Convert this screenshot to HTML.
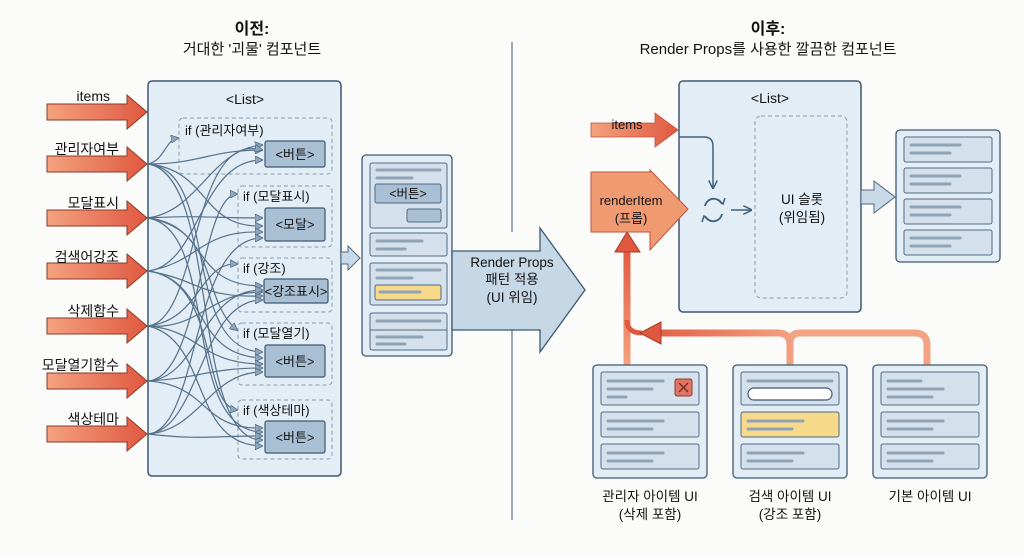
<!DOCTYPE html>
<html><head><meta charset="utf-8"><style>
html,body{margin:0;padding:0;background:#fbfbfa;}
svg{display:block;font-family:"Liberation Sans","Noto Sans CJK KR",sans-serif;}
</style></head><body>
<svg width="1024" height="559" viewBox="0 0 1024 559" xmlns="http://www.w3.org/2000/svg">
<defs>
<marker id="ah" markerWidth="8" markerHeight="8" refX="7" refY="4" orient="auto" markerUnits="userSpaceOnUse"><path d="M0,0 L8,4 L0,8 Z" fill="#8fa6bb" stroke="#4f6a84" stroke-width="0.8"/></marker>
<marker id="ah2" markerWidth="9" markerHeight="9" refX="8" refY="4.5" orient="auto" markerUnits="userSpaceOnUse"><path d="M0,0 L9,4.5 L0,9" fill="none" stroke="#3f607c" stroke-width="1.5"/></marker>
<linearGradient id="og" x1="0" x2="1"><stop offset="0" stop-color="#f3a27f"/><stop offset="1" stop-color="#e0583f"/></linearGradient>
<linearGradient id="og2" gradientUnits="userSpaceOnUse" x1="640" y1="0" x2="800" y2="0"><stop offset="0" stop-color="#e0583f"/><stop offset="1" stop-color="#f4a585"/></linearGradient>
<linearGradient id="ov" gradientUnits="userSpaceOnUse" x1="0" y1="365" x2="0" y2="245"><stop offset="0" stop-color="#f3a27f"/><stop offset="1" stop-color="#e0583f"/></linearGradient>
</defs>

<!-- titles -->
<text x="252" y="34" text-anchor="middle" font-size="16" font-weight="bold" fill="#111">이전:</text>
<text x="252" y="54" text-anchor="middle" font-size="15" fill="#111">거대한 '괴물' 컴포넌트</text>
<text x="768" y="34" text-anchor="middle" font-size="16" font-weight="bold" fill="#111">이후:</text>
<text x="768" y="54" text-anchor="middle" font-size="15" fill="#111">Render Props를 사용한 깔끔한 컴포넌트</text>

<!-- divider -->
<line x1="512" y1="42" x2="512" y2="232" stroke="#7d8fa0" stroke-width="1.5"/>
<line x1="512" y1="325" x2="512" y2="520" stroke="#7d8fa0" stroke-width="1.5"/>

<!-- LEFT list box -->
<rect x="148" y="81" width="193" height="395" rx="4" fill="#e2edf6" stroke="#3e5870" stroke-width="1.5"/>
<text x="245" y="104" text-anchor="middle" font-size="14" fill="#111">&lt;List&gt;</text>

<!-- input arrows -->
<g fill="url(#og)" stroke="#8a3a2a" stroke-width="1">
<path d="M47,104 H127 V95 L147,112 L127,129 V120 H47 Z"/>
<path d="M47,156 H127 V147 L147,164 L127,181 V172 H47 Z"/>
<path d="M47,210 H127 V201 L147,218 L127,235 V226 H47 Z"/>
<path d="M47,263 H127 V254 L147,271 L127,288 V279 H47 Z"/>
<path d="M47,318 H127 V309 L147,326 L127,343 V334 H47 Z"/>
<path d="M47,373 H127 V364 L147,381 L127,398 V389 H47 Z"/>
<path d="M47,426 H127 V417 L147,434 L127,451 V442 H47 Z"/>
</g>
<g font-size="14" fill="#111" text-anchor="end">
<text x="110" y="101">items</text>
<text x="119" y="154">관리자여부</text>
<text x="119" y="208">모달표시</text>
<text x="119" y="262">검색어강조</text>
<text x="119" y="316">삭제함수</text>
<text x="119" y="370">모달열기함수</text>
<text x="119" y="424">색상테마</text>
</g>

<!-- dashed groups -->
<g fill="none" stroke="#8c9cab" stroke-dasharray="4,3" stroke-width="1">
<rect x="179" y="118" width="153" height="56" rx="4"/>
<rect x="238" y="186" width="94" height="61" rx="4"/>
<rect x="238" y="258" width="94" height="54" rx="4"/>
<rect x="238" y="323" width="94" height="62" rx="4"/>
<rect x="238" y="400" width="94" height="59" rx="4"/>
</g>
<g font-size="13" fill="#111">
<text x="185" y="135">if (관리자여부)</text>
<text x="243" y="201">if (모달표시)</text>
<text x="243" y="273">if (강조)</text>
<text x="243" y="338">if (모달열기)</text>
<text x="243" y="415">if (색상테마)</text>
</g>
<g fill="#a9bfd3" stroke="#3e5870" stroke-width="1.2">
<rect x="265" y="141" width="60" height="26" rx="2"/>
<rect x="265" y="208" width="60" height="33" rx="2"/>
<rect x="264" y="279" width="64" height="24" rx="2"/>
<rect x="265" y="345" width="60" height="32" rx="2"/>
<rect x="265" y="421" width="60" height="32" rx="2"/>
</g>
<g font-size="13" fill="#111" text-anchor="middle">
<text x="295" y="159">&lt;버튼&gt;</text>
<text x="295" y="229">&lt;모달&gt;</text>
<text x="296" y="296">&lt;강조표시&gt;</text>
<text x="295" y="366">&lt;버튼&gt;</text>
<text x="295" y="442">&lt;버튼&gt;</text>
</g>

<!-- tangled curves -->
<g fill="none" stroke="#56708a" stroke-width="1.2" marker-end="url(#ah)">
<path d="M148,164 C165,160 165,140 178,138"/>
<path d="M148,164 C200,164 210,150 262,150"/>
<path d="M148,164 C210,170 200,228 262,226"/>
<path d="M148,164 C220,170 180,350 262,352"/>
<path d="M148,164 C220,175 190,440 262,440"/>
<path d="M148,218 C200,210 210,150 262,145"/>
<path d="M148,218 C200,215 210,218 262,218"/>
<path d="M148,218 C210,225 190,286 262,286"/>
<path d="M148,218 C220,230 200,300 237,330"/>
<path d="M148,218 C220,230 180,430 262,432"/>
<path d="M148,271 C200,265 200,160 262,160"/>
<path d="M148,271 C200,262 200,230 262,232"/>
<path d="M148,271 C200,280 200,298 262,296"/>
<path d="M148,271 C210,280 190,355 262,358"/>
<path d="M148,271 C220,280 200,405 237,410"/>
<path d="M148,326 C200,320 190,130 262,150"/>
<path d="M148,326 C200,320 200,262 237,264"/>
<path d="M148,326 C200,330 210,292 262,292"/>
<path d="M148,326 C200,330 200,364 262,364"/>
<path d="M148,326 C210,340 190,445 262,446"/>
<path d="M148,381 C200,378 200,195 237,194"/>
<path d="M148,381 C200,378 200,290 262,290"/>
<path d="M148,381 C200,378 210,368 262,368"/>
<path d="M148,381 C210,385 200,430 262,428"/>
<path d="M148,434 C200,430 190,238 262,238"/>
<path d="M148,434 C200,430 200,300 262,300"/>
<path d="M148,434 C200,430 210,372 262,372"/>
<path d="M148,434 C200,440 210,436 262,436"/>
</g>

<!-- small out arrow -->
<path d="M341,252 H348 V246 L360,258 L348,270 V264 H341 Z" fill="#c9d9e7" stroke="#4f6a84" stroke-width="1"/>

<!-- middle panel -->
<rect x="362" y="155" width="90" height="201" rx="4" fill="#e2edf6" stroke="#3e5870" stroke-width="1.3"/>
<g fill="#d4e1ec" stroke="#4f6a84" stroke-width="1">
<rect x="370" y="163" width="77" height="65" rx="2"/>
<rect x="370" y="233" width="77" height="23" rx="2"/>
<rect x="370" y="263" width="77" height="42" rx="2"/>
<rect x="370" y="313" width="77" height="37" rx="2"/>
<line x1="370" y1="330" x2="447" y2="330"/>
</g>
<rect x="375" y="184" width="66" height="19" rx="2" fill="#a9bfd3" stroke="#4f6a84"/>
<text x="408" y="198" text-anchor="middle" font-size="12.5" fill="#111">&lt;버튼&gt;</text>
<rect x="407" y="209" width="34" height="13" rx="2" fill="#a9bfd3" stroke="#4f6a84"/>
<rect x="375" y="285" width="66" height="15" rx="2" fill="#f7d98a" stroke="#4f6a84"/>
<g stroke="#8fa3b6" stroke-width="3" stroke-linecap="round">
<line x1="377" y1="170" x2="440" y2="170"/><line x1="377" y1="178" x2="412" y2="178"/>
<line x1="377" y1="241" x2="422" y2="241"/><line x1="377" y1="249" x2="405" y2="249"/>
<line x1="377" y1="270" x2="440" y2="270"/><line x1="377" y1="278" x2="412" y2="278"/>
<line x1="380" y1="292" x2="420" y2="292"/>
<line x1="377" y1="321" x2="440" y2="321"/>
<line x1="377" y1="337" x2="422" y2="337"/><line x1="377" y1="344" x2="405" y2="344"/>
</g>

<!-- big arrow -->
<path d="M452,251 H540 V228 L585,290 L540,352 V330 H452 Z" fill="#c6d7e6" stroke="#3e5870" stroke-width="1.3"/>
<g font-size="13.5" fill="#111" text-anchor="middle">
<text x="512" y="267">Render Props</text>
<text x="512" y="284">패턴 적용</text>
<text x="512" y="302">(UI 위임)</text>
</g>

<!-- RIGHT list -->
<rect x="679" y="81" width="182" height="231" rx="4" fill="#e2edf6" stroke="#3e5870" stroke-width="1.5"/>
<text x="770" y="103" text-anchor="middle" font-size="14" fill="#111">&lt;List&gt;</text>
<rect x="755" y="116" width="92" height="182" rx="6" fill="none" stroke="#8c9cab" stroke-dasharray="4,3"/>
<text x="802" y="204" text-anchor="middle" font-size="13.5" fill="#111">UI 슬롯</text>
<text x="802" y="222" text-anchor="middle" font-size="13.5" fill="#111">(위임됨)</text>

<!-- items arrow -->
<path d="M591,123 H655 V113 L678,130 L655,147 V137 H591 Z" fill="url(#og)" stroke="#c0533d" stroke-width="0.8"/>
<text x="627" y="129" text-anchor="middle" font-size="13" fill="#111">items</text>

<!-- bottom orange connectors -->
<path d="M927,365 V345 Q927,333 915,333 H800 Q790,333 790,343 V365" fill="none" stroke="#f2a383" stroke-width="7"/>
<path d="M790,365 V345 Q790,333 778,333 H655" fill="none" stroke="url(#og2)" stroke-width="7"/>
<path d="M627,365 V250" fill="none" stroke="url(#ov)" stroke-width="7"/>
<path d="M627,320 Q627,333 642,333" fill="none" stroke="#e0583f" stroke-width="5"/>
<path d="M615,252 L627,232 L640,252 Z" fill="#e0583f" stroke="#a83a28" stroke-width="1"/>
<path d="M661,322 L640,333 L661,344 Z" fill="#e0583f" stroke="#a83a28" stroke-width="1"/>

<!-- renderItem arrow -->
<path d="M591,172 H650 V170 L688,209 L650,250 V232 H591 Z" fill="#f09a72" stroke="#c0533d" stroke-width="1"/>
<text x="631" y="205" text-anchor="middle" font-size="13" fill="#111">renderItem</text>
<text x="631" y="223" text-anchor="middle" font-size="13" fill="#111">(프롭)</text>

<!-- inner connectors -->
<path d="M679,137 H704 Q713,137 713,146 V188" fill="none" stroke="#3f607c" stroke-width="1.5" marker-end="url(#ah2)"/>
<path d="M705,206 A9,9 0 0 1 722,204" fill="none" stroke="#3f607c" stroke-width="1.8"/>
<path d="M722,214 A9,9 0 0 1 705,216" fill="none" stroke="#3f607c" stroke-width="1.8"/>
<path d="M718,200 L723,204 L725,198" fill="none" stroke="#3f607c" stroke-width="1.5"/>
<path d="M709,220 L704,216 L702,222" fill="none" stroke="#3f607c" stroke-width="1.5"/>
<path d="M731,210 H751" fill="none" stroke="#3f607c" stroke-width="1.5" marker-end="url(#ah2)"/>

<!-- out arrow right -->
<path d="M861,190 H874 V181 L895,197 L874,213 V204 H861 Z" fill="#c9d9e7" stroke="#4f6a84" stroke-width="1"/>
<rect x="896" y="130" width="104" height="132" rx="4" fill="#e2edf6" stroke="#3e5870" stroke-width="1.3"/>
<g fill="#d4e1ec" stroke="#4f6a84">
<rect x="904" y="137" width="88" height="25" rx="2"/>
<rect x="904" y="168" width="88" height="25" rx="2"/>
<rect x="904" y="199" width="88" height="25" rx="2"/>
<rect x="904" y="230" width="88" height="25" rx="2"/>
</g>
<g stroke="#8fa3b6" stroke-width="3" stroke-linecap="round">
<line x1="911" y1="145" x2="960" y2="145"/><line x1="911" y1="153" x2="950" y2="153"/>
<line x1="911" y1="176" x2="960" y2="176"/><line x1="911" y1="184" x2="950" y2="184"/>
<line x1="911" y1="207" x2="960" y2="207"/><line x1="911" y1="215" x2="950" y2="215"/>
<line x1="911" y1="238" x2="960" y2="238"/><line x1="911" y1="246" x2="950" y2="246"/>
</g>

<!-- bottom cards -->
<g fill="#e2edf6" stroke="#3e5870" stroke-width="1.3">
<rect x="593" y="365" width="114" height="113" rx="4"/>
<rect x="733" y="365" width="114" height="113" rx="4"/>
<rect x="873" y="365" width="114" height="113" rx="4"/>
</g>
<g fill="#d4e1ec" stroke="#4f6a84">
<rect x="601" y="372" width="98" height="33" rx="2"/>
<rect x="601" y="412" width="98" height="25" rx="2"/>
<rect x="601" y="444" width="98" height="25" rx="2"/>
<rect x="741" y="372" width="98" height="33" rx="2"/>
<rect x="741" y="412" width="98" height="25" rx="2" fill="#f7d98a"/>
<rect x="741" y="444" width="98" height="25" rx="2"/>
<rect x="881" y="372" width="98" height="33" rx="2"/>
<rect x="881" y="412" width="98" height="25" rx="2"/>
<rect x="881" y="444" width="98" height="25" rx="2"/>
</g>
<rect x="675" y="379" width="17" height="17" rx="2" fill="#e07566" stroke="#8a3a2a"/>
<path d="M679,383 L688,392 M688,383 L679,392" stroke="#7a2a1e" stroke-width="1.4"/>
<rect x="748" y="388" width="84" height="12" rx="6" fill="#fff" stroke="#3e5870" stroke-width="1.2"/>
<g stroke="#8fa3b6" stroke-width="3" stroke-linecap="round">
<line x1="608" y1="381" x2="663" y2="381"/><line x1="608" y1="389" x2="652" y2="389"/><line x1="608" y1="397" x2="626" y2="397"/>
<line x1="608" y1="421" x2="663" y2="421"/><line x1="608" y1="429" x2="652" y2="429"/>
<line x1="608" y1="453" x2="663" y2="453"/><line x1="608" y1="461" x2="652" y2="461"/>
<line x1="748" y1="381" x2="832" y2="381"/>
<line x1="748" y1="421" x2="803" y2="421"/><line x1="748" y1="429" x2="792" y2="429"/>
<line x1="748" y1="453" x2="803" y2="453"/><line x1="748" y1="461" x2="792" y2="461"/>
<line x1="888" y1="381" x2="921" y2="381"/><line x1="888" y1="389" x2="943" y2="389"/><line x1="888" y1="397" x2="932" y2="397"/>
<line x1="888" y1="421" x2="943" y2="421"/><line x1="888" y1="429" x2="932" y2="429"/>
<line x1="888" y1="453" x2="943" y2="453"/><line x1="888" y1="461" x2="932" y2="461"/>
</g>
<g font-size="13.5" fill="#111" text-anchor="middle">
<text x="650" y="501">관리자 아이템 UI</text>
<text x="650" y="519">(삭제 포함)</text>
<text x="790" y="501">검색 아이템 UI</text>
<text x="790" y="519">(강조 포함)</text>
<text x="930" y="501">기본 아이템 UI</text>
</g>
</svg>
</body></html>
